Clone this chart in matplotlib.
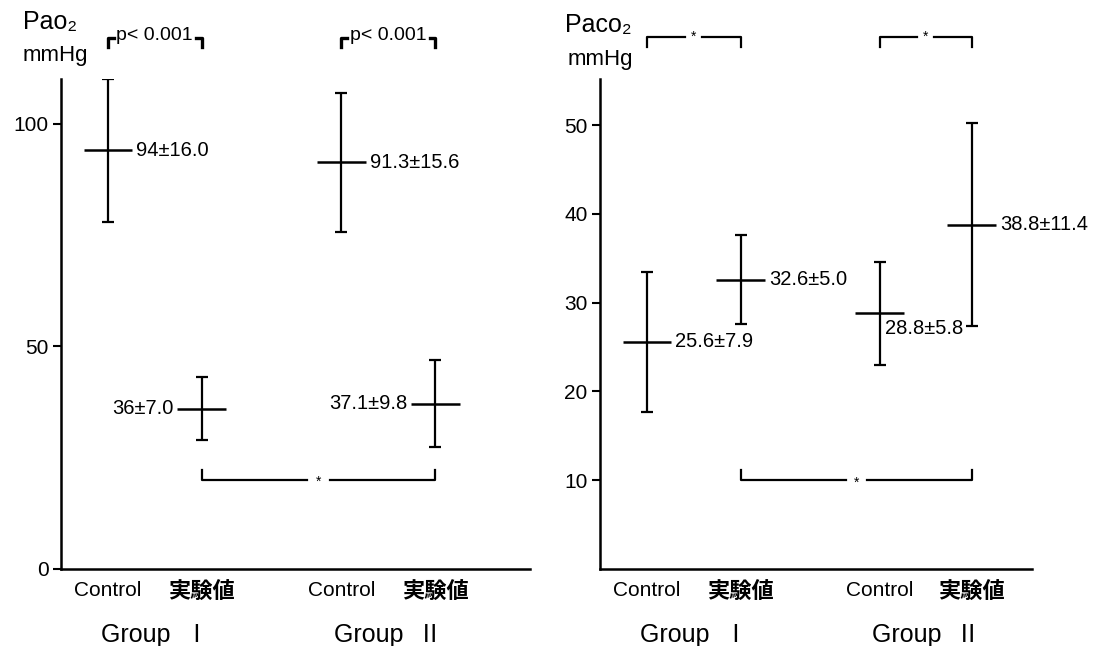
import matplotlib
matplotlib.use("Agg")
import matplotlib.pyplot as plt
import matplotlib.transforms as mtransforms

# values
categories = ["Control", "実験値", "Control", "実験値"]
groups = ["Group  Ⅰ", "Group  Ⅱ"]
pao2_mean = [94, 36, 91.3, 37.1]
pao2_sd = [16.0, 7.0, 15.6, 9.8]
paco2_mean = [25.6, 32.6, 28.8, 38.8]
paco2_sd = [7.9, 5.0, 5.8, 11.4]
pao2_ticks = [0, 50, 100]
paco2_ticks = [10, 20, 30, 40, 50]

LAT = ["Liberation Sans", "Noto Sans CJK JP", "DejaVu Sans"]
NUM = ["Liberation Sans Narrow", "Liberation Sans", "DejaVu Sans"]


def label(mean, sd):
    m = f"{mean:g}" if mean == int(mean) else f"{mean:.1f}"
    return f"{m}±{sd:.1f}"


def bracket(ax, x0, x1, y, h, gap, trans=None, star_dy=0):
    tr = trans if trans is not None else ax.transData
    xm = (x0 + x1) / 2
    kw = dict(color="black", lw=1.6, transform=tr, clip_on=False)
    ax.plot([x0, x0, xm - gap], [y + h, y, y], **kw)
    ax.plot([xm + gap, x1, x1], [y, y, y + h], **kw)
    ax.text(xm, y + star_dy, "*", ha="center", va="center", fontsize=10,
            transform=tr, clip_on=False, family=LAT)


def panel(ax, means, sds, pos, ymax, ticks, sides, half=0.26):
    ax.errorbar(pos, means, yerr=sds, fmt="none", ecolor="black",
                elinewidth=1.6, capsize=4.5, capthick=1.6)
    ax.hlines(means, [p - half for p in pos], [p + half for p in pos],
              color="black", lw=1.8)
    ax.set_ylim(0, ymax)
    ax.set_xlim(0.5, 5.5)
    ax.set_yticks(ticks)
    ax.set_yticklabels([str(t) for t in ticks], family=LAT, fontsize=15)
    ax.tick_params(axis="y", direction="out", length=6, width=1.5, pad=3)
    ax.tick_params(axis="x", length=0, pad=9)
    ax.set_xticks(pos)
    ax.set_xticklabels(categories, fontsize=15, family=LAT)
    for t in ax.get_xticklabels():
        if t.get_text() != "Control":
            t.set_fontweight("bold")
            t.set_fontsize(16)
    for s in ["top", "right"]:
        ax.spines[s].set_visible(False)
    for s in ["left", "bottom"]:
        ax.spines[s].set_linewidth(1.8)
    tr = mtransforms.blended_transform_factory(ax.transData, ax.transAxes)
    for i, g in enumerate(groups):
        xc = (pos[2 * i] + pos[2 * i + 1]) / 2
        ax.text(xc, -0.135, g, ha="center", va="center", fontsize=18,
                family=LAT, transform=tr)
    for p, m, s, side in zip(pos, means, sds, sides):
        txt = label(m, s)
        if side == "right":
            ax.text(p + half + 0.04, m, txt, ha="left", va="center",
                    fontsize=14.5, family=NUM)
        elif side == "left":
            ax.text(p - half - 0.04, m, txt, ha="right", va="center",
                    fontsize=14.5, family=NUM)
        else:
            ax.text(p + 0.05, m - ymax * 0.03, txt, ha="left", va="center",
                    fontsize=14.5, family=NUM)


fig = plt.figure(figsize=(11.01, 6.46), dpi=100)
W, H = 1101, 646

ax1 = fig.add_axes([61 / W, (H - 569) / H, 469 / W, 490 / H])
pos1 = [1, 2, 3.49, 4.49]
panel(ax1, pao2_mean, pao2_sd, pos1, 110, pao2_ticks,
      ["right", "left", "right", "left"])
bracket(ax1, pos1[1], pos1[3], 20, 2.3, 0.12, star_dy=-0.5)

# p<0.001 corners over each group
tr1 = mtransforms.blended_transform_factory(ax1.transData, ax1.transAxes)
for i in range(2):
    a, b = pos1[2 * i], pos1[2 * i + 1]
    kw = dict(color="black", lw=2.4, transform=tr1, clip_on=False)
    ax1.plot([a, a, a + 0.06], [1.066, 1.084, 1.084], **kw)
    ax1.plot([b - 0.06, b, b], [1.084, 1.084, 1.066], **kw)
    ax1.text((a + b) / 2, 1.088, "p< 0.001", ha="center", va="center",
             fontsize=14, family=NUM, transform=tr1)

fig.text(50 / W, 1 - 22 / H, "Pao₂", ha="center", va="center",
         fontsize=18, family=LAT)
fig.text(55 / W, 1 - 56 / H, "mmHg", ha="center", va="center",
         fontsize=16, family=LAT)

ax2 = fig.add_axes([600 / W, (H - 569) / H, 432 / W, 490 / H])
pos2 = [1, 2, 3.48, 4.46]
panel(ax2, paco2_mean, paco2_sd, pos2, 55.2, paco2_ticks,
      ["right", "right", "below", "right"])
ax2.set_xlim(0.5, 5.1)
bracket(ax2, pos2[1], pos2[3], 10, 1.1, 0.11, star_dy=-0.3)
tr2 = mtransforms.blended_transform_factory(ax2.transData, ax2.transAxes)
for i in range(2):
    a, b = pos2[2 * i], pos2[2 * i + 1]
    bracket(ax2, a, b, 1.086, -0.02, 0.09, trans=tr2, star_dy=0.0)

fig.text(598 / W, 1 - 25 / H, "Paco₂", ha="center", va="center",
         fontsize=18, family=LAT)
fig.text(600 / W, 1 - 60 / H, "mmHg", ha="center", va="center",
         fontsize=16, family=LAT)

fig.savefig("out.png", dpi=100)
